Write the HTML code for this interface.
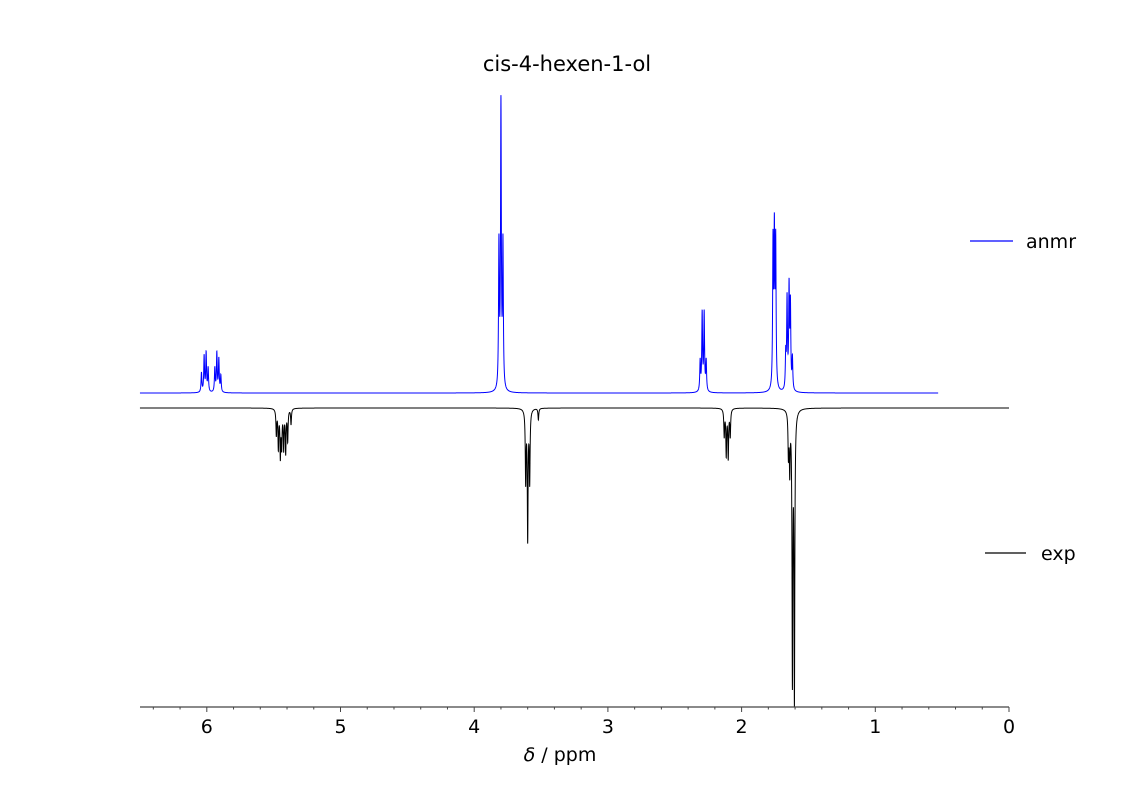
<!DOCTYPE html>
<html><head><meta charset="utf-8"><style>
body{margin:0;background:#fff}
svg{display:block;font-family:"DejaVu Sans","Liberation Sans",sans-serif}
</style></head><body>
<svg id="chart" width="1122" height="794" viewBox="0 0 1122 794">
<text x="567" y="71" font-size="21" text-anchor="middle">cis-4-hexen-1-ol</text>
<g id="plot"></g>
<line x1="140" y1="707" x2="1009" y2="707" stroke="#444" stroke-width="1.2"/>
<g id="ticks"></g>
<text x="560" y="761" font-size="19" text-anchor="middle"><tspan font-style="italic">δ</tspan> / ppm</text>
<g>
<line x1="970" y1="241" x2="1013" y2="241" stroke="#0000ff" stroke-width="1.2"/>
<text x="1026" y="248" font-size="19">anmr</text></g>
<g>
<line x1="985" y1="553" x2="1026" y2="553" stroke="#000" stroke-width="1.2"/>
<text x="1041" y="560" font-size="19">exp</text></g>
</svg>
<script>
// anmr peak list: ppm and relative intensity
const anmrPpm=[6.04,6.02,6.005,5.99,5.94,5.925,5.91,5.895,3.815,3.80,3.785,2.31,2.295,2.28,2.265,1.765,1.755,1.745,1.67,1.66,1.645,1.635,1.62];
const anmrInt=[0.065,0.12,0.13,0.08,0.08,0.13,0.11,0.055,0.48,0.95,0.48,0.10,0.26,0.26,0.10,0.48,0.50,0.48,0.115,0.30,0.335,0.28,0.105];
// experimental peak list
const expPpm=[5.48,5.465,5.45,5.44,5.425,5.41,5.395,5.37,3.615,3.60,3.585,3.52,2.13,2.115,2.10,2.085,1.65,1.64,1.62,1.605];
const expInt=[0.09,0.135,0.16,0.125,0.135,0.15,0.11,0.055,0.25,0.45,0.25,0.04,0.095,0.16,0.17,0.095,0.15,0.20,0.93,1.0];
const tickLabels=[6,5,4,3,2,1,0];
const NS='http://www.w3.org/2000/svg';
const X=p=>1009-p*133.7;
function spec(ppm,inten,lo,hi,base,scale,color,name){
  const w=0.0035;let d='';
  for(let p=hi;p>=lo;p-=0.0004){
    let s=0;for(let i=0;i<ppm.length;i++){const z=(p-ppm[i])/w;s+=inten[i]/(1+z*z);}
    d+=(d?'L':'M')+X(p).toFixed(2)+','+(base+s*scale).toFixed(2);
  }
  const el=document.createElementNS(NS,'path');
  el.setAttribute('d',d);el.setAttribute('fill','none');el.setAttribute('stroke',color);el.setAttribute('stroke-width','1');
  
  
  document.getElementById('plot').appendChild(el);
}
spec(anmrPpm,anmrInt,0.53,6.5,393,-298,'#0000ff','anmr-spectrum');
spec(expPpm,expInt,0,6.5,408,285,'#000','exp-spectrum');
const tg=document.getElementById('ticks');
for(let k=0;k<=32;k++){const p=k*0.2;const major=Math.abs(p-Math.round(p))<1e-6;
  const l=document.createElementNS(NS,'line');
  l.setAttribute('x1',X(p));l.setAttribute('x2',X(p));l.setAttribute('y1',707);l.setAttribute('y2',major?712:709.5);
  l.setAttribute('stroke','#444');
  
  
  tg.appendChild(l);}
tickLabels.forEach(v=>{const t=document.createElementNS(NS,'text');
  t.setAttribute('x',X(v));t.setAttribute('y',733);t.setAttribute('font-size','19');t.setAttribute('text-anchor','middle');t.textContent=v;
  
  
  tg.appendChild(t);});
</script>
</body></html>
